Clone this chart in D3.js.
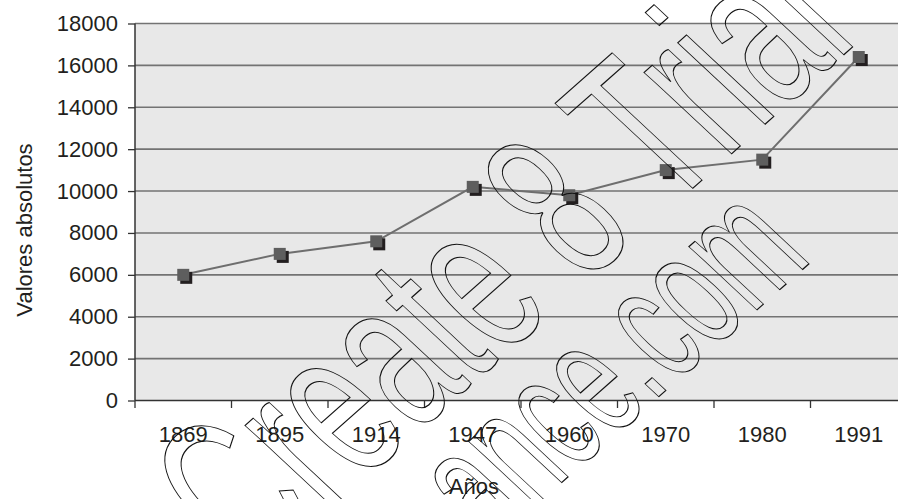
<!DOCTYPE html>
<html>
<head>
<meta charset="utf-8">
<script src="https://cdn.jsdelivr.net/npm/d3@7"></script>
<style>
  html, body { margin: 0; padding: 0; background: #ffffff; }
  svg { display: block; }
</style>
</head>
<body>
<svg id="chart" width="898" height="499"></svg>
<script>
// ---- data ----
const categories = ["1869", "1895", "1914", "1947", "1960", "1970", "1980", "1991"];
const values = [6000, 7000, 7600, 10200, 9800, 11000, 11500, 16400];
const yTicks = [0, 2000, 4000, 6000, 8000, 10000, 12000, 14000, 16000, 18000];
const yTitle = "Valores absolutos";
const xTitle = "Años";
const watermarkLines = ["Create 8 Trial", "ance.com"];

// ---- layout ----
const svg = d3.select("#chart");
const plotL = 135, plotR = 907, plotT = 23.5, plotB = 400.5;
const font = "'Liberation Sans', Arial, Helvetica, sans-serif";

const x = d3.scaleBand().domain(categories).range([plotL, plotR]).padding(0);
const y = d3.scaleLinear().domain([0, 18000]).range([plotB, plotT]);

// plot background
svg.append("rect")
  .attr("x", plotL).attr("y", plotT)
  .attr("width", plotR - plotL).attr("height", plotB - plotT)
  .attr("fill", "#e8e8e8");

// gridlines
svg.append("g").selectAll("line").data(yTicks.filter(d => d > 0)).join("line")
  .attr("x1", plotL).attr("x2", plotR)
  .attr("y1", d => y(d)).attr("y2", d => y(d))
  .attr("stroke", "#737373").attr("stroke-width", 1.6);

// y axis
const yAxis = d3.axisLeft(y).tickValues(yTicks).tickSize(7).tickPadding(10).tickFormat(d3.format("d"));
const gy = svg.append("g").attr("transform", `translate(${plotL},0)`).call(yAxis);
gy.select(".domain").remove();
gy.selectAll(".tick line").attr("stroke", "#333").attr("stroke-width", 1.3);
gy.selectAll(".tick text")
  .attr("font-family", font).attr("font-size", 22).attr("fill", "#231f20");

// x axis
const xAxis = d3.axisBottom(x).tickSize(0).tickPadding(0);
const gx = svg.append("g").attr("transform", `translate(0,${plotB})`).call(xAxis);
gx.select(".domain").remove();
gx.selectAll(".tick text")
  .attr("font-family", font).attr("font-size", 22).attr("fill", "#231f20")
  .attr("dy", null).attr("y", 41.5);

// x ticks at band boundaries
const boundaries = categories.map(c => x(c)).concat([x(categories[categories.length - 1]) + x.bandwidth()]);
svg.append("g").selectAll("line").data(boundaries).join("line")
  .attr("x1", d => d).attr("x2", d => d)
  .attr("y1", plotB).attr("y2", plotB + 7.5)
  .attr("stroke", "#333").attr("stroke-width", 1.3);

// axis lines
svg.append("line").attr("x1", plotL).attr("x2", plotR).attr("y1", plotB).attr("y2", plotB)
  .attr("stroke", "#333").attr("stroke-width", 1.5);
svg.append("line").attr("x1", plotL).attr("x2", plotL).attr("y1", plotT).attr("y2", plotB)
  .attr("stroke", "#333").attr("stroke-width", 1.5);

// series line
const cx = c => x(c) + x.bandwidth() / 2;
const line = d3.line().x((d, i) => cx(categories[i])).y(d => y(d));
svg.append("path").datum(values)
  .attr("d", line).attr("fill", "none")
  .attr("stroke", "#6e6e6e").attr("stroke-width", 2);

// markers with shadow
const ms = 12, off = 3;
const mk = svg.append("g");
mk.selectAll("rect.shadow").data(values).join("rect").attr("class", "shadow")
  .attr("x", (d, i) => cx(categories[i]) - ms / 2 + off)
  .attr("y", d => y(d) - ms / 2 + off)
  .attr("width", ms).attr("height", ms).attr("fill", "#231f20");
mk.selectAll("rect.mark").data(values).join("rect").attr("class", "mark")
  .attr("x", (d, i) => cx(categories[i]) - ms / 2)
  .attr("y", d => y(d) - ms / 2)
  .attr("width", ms).attr("height", ms).attr("fill", "#5e5e5e");

// axis titles
svg.append("text")
  .attr("transform", "translate(32,230) rotate(-90)")
  .attr("text-anchor", "middle")
  .attr("font-family", font).attr("font-size", 22).attr("fill", "#231f20")
  .text(yTitle);
svg.append("text")
  .attr("x", 474).attr("y", 494)
  .attr("text-anchor", "middle")
  .attr("font-family", font).attr("font-size", 22).attr("fill", "#231f20")
  .text(xTitle);

// watermark (outlined text)
const wm = [
  { t: watermarkLines[0], tr: "translate(252.5,577.7) rotate(-41.5) skewX(5.5) scale(0.6,1)", fs: 225 },
  { t: watermarkLines[1], tr: "translate(490,546) rotate(-41.5) skewX(5.5) scale(0.57,1)", fs: 175 }
];
svg.append("g").selectAll("text").data(wm).join("text")
  .attr("transform", d => d.tr)
  .attr("font-family", font).attr("font-size", d => d.fs)
  .attr("fill", "none").attr("stroke", "#111").attr("stroke-width", 1)
  .attr("vector-effect", "non-scaling-stroke")
  .text(d => d.t);
</script>
</body>
</html>
